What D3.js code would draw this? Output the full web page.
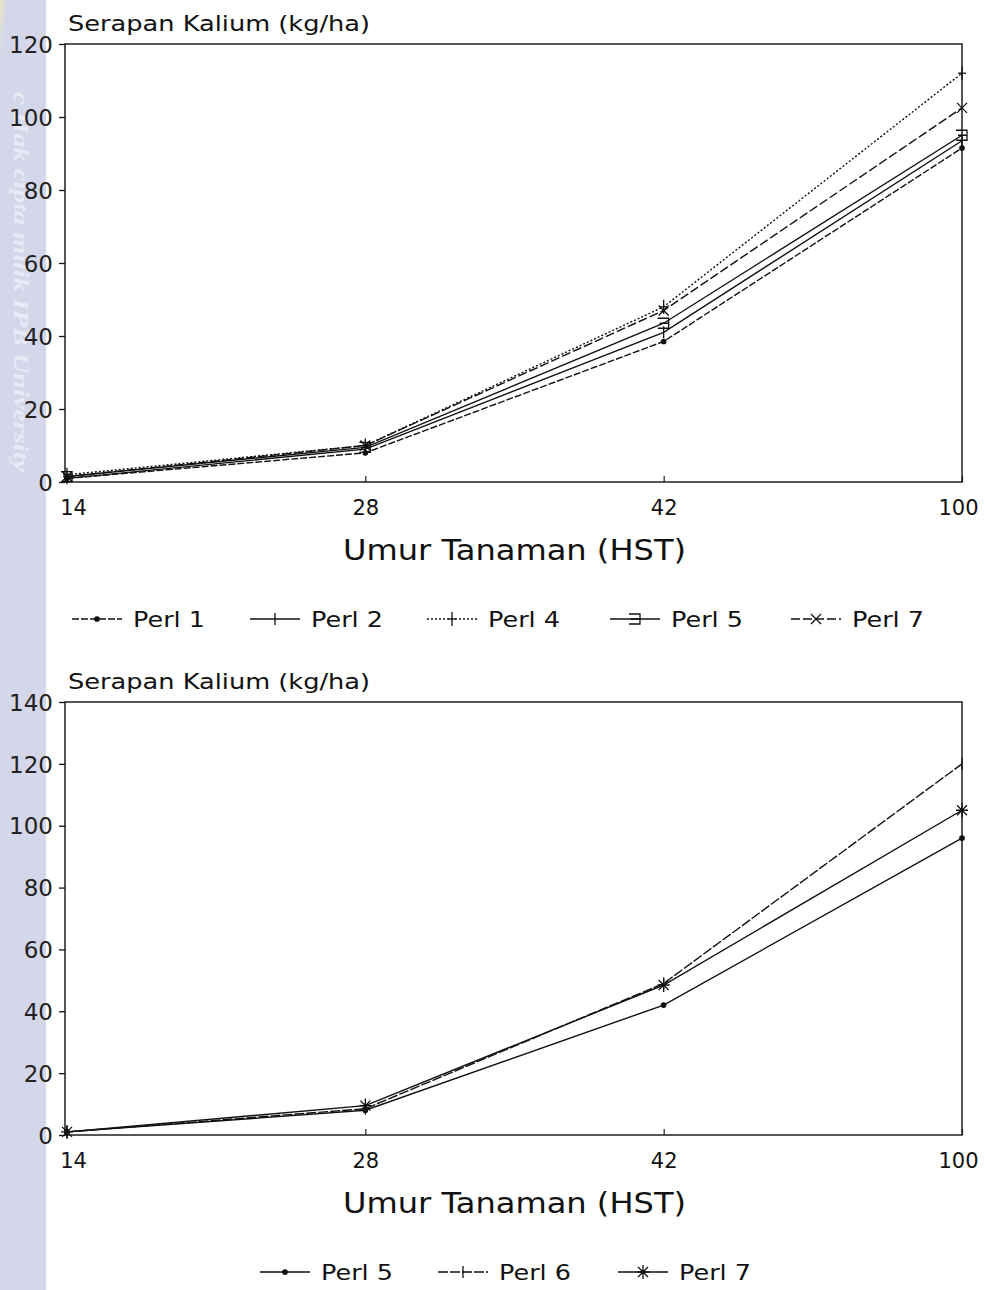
<!DOCTYPE html>
<html>
<head>
<meta charset="utf-8">
<script src="https://cdn.jsdelivr.net/npm/d3@7"></script>
<style>
  body { margin: 0; background: #fff; }
  text { font-family: "DejaVu Sans", sans-serif; fill: #111; }
</style>
</head>
<body>
<div id="chart"></div>
<script>
var width = 985, height = 1290;

// data
var days = ["14", "28", "42", "100"];
var perl1Top = [1, 8, 38.5, 91.5];
var perl2Top = [1, 9, 41, 93.5];
var perl4Top = [2, 10, 48, 112];
var perl5Top = [1.5, 9.5, 43.5, 95];
var perl7Top = [1.5, 10, 47, 102.5];
var ticksTop = [0, 20, 40, 60, 80, 100, 120];

var perl5Bot = [1, 8, 42, 96];
var perl6Bot = [1, 8.5, 49, 120];
var perl7Bot = [1, 9.5, 48.5, 105];
var ticksBot = [0, 20, 40, 60, 80, 100, 120, 140];

var yTitle = "Serapan Kalium (kg/ha)";
var xTitle = "Umur Tanaman (HST)";

var svg = d3.select("#chart").append("svg")
  .attr("width", width)
  .attr("height", height);

// lavender strip with watermark on the left
var grad = svg.append("defs").append("linearGradient")
  .attr("id", "strip").attr("x1", 0).attr("y1", 0).attr("x2", 0.3).attr("y2", 1);
grad.append("stop").attr("offset", "0").attr("stop-color", "#e8e8c4");
grad.append("stop").attr("offset", "0.05").attr("stop-color", "#d4d6ea");
grad.append("stop").attr("offset", "1").attr("stop-color", "#d4d6ea");
svg.append("rect").attr("x", 0).attr("y", 0).attr("width", 46).attr("height", height)
  .style("fill", "url(#strip)");
svg.append("text")
  .attr("transform", "translate(14,92) rotate(90)")
  .attr("textLength", 380).attr("lengthAdjust", "spacingAndGlyphs")
  .style("font-family", "'Liberation Serif', serif")
  .style("font-style", "italic")
  .style("font-weight", "bold")
  .style("font-size", "22px")
  .style("fill", "#e9eaf6")
  .text("c Hak cipta milik IPB University");

var styles = {
  "p1": { dash: "7,2", mark: "dot" },
  "p2": { dash: null, mark: "vbar" },
  "p4": { dash: "2,2", mark: "plus" },
  "p5": { dash: null, mark: "bracket" },
  "p5b": { dash: null, mark: "dot" },
  "p6": { dash: "10,2", mark: "vbar" },
  "p7": { dash: "9,3", mark: "cross" },
  "p7b": { dash: null, mark: "star" }
};

function marker(g, kind, x, y) {
  var m = g.append("g").attr("transform", "translate(" + x + "," + y + ")")
    .style("stroke", "#111").style("stroke-width", 1.3).style("fill", "none");
  if (kind == "dot") {
    m.append("circle").attr("r", 2.2).style("fill", "#111");
  } else if (kind == "vbar") {
    m.append("line").attr("x1", 0).attr("x2", 0).attr("y1", -6).attr("y2", 6);
  } else if (kind == "plus") {
    m.append("line").attr("x1", 0).attr("x2", 0).attr("y1", -7).attr("y2", 7);
    m.append("line").attr("x1", -4).attr("x2", 4).attr("y1", 0).attr("y2", 0);
  } else if (kind == "bracket") {
    m.append("path").attr("d", "M-6,-5H5V5H-6M-4,0H5");
  } else if (kind == "cross") {
    m.append("path").attr("d", "M-5,-5L5,5M-5,5L5,-5");
  } else if (kind == "star") {
    m.append("path").attr("d", "M-5,-5L5,5M-5,5L5,-5M0,-7V7M-6,0H6");
  }
}

function drawChart(top, bottom, maxY, ticks, series, legendX, legendY) {
  var x = d3.scalePoint().domain(days).range([67, 962]);
  var y = d3.scaleLinear().domain([0, maxY]).range([bottom, top]);
  var g = svg.append("g");

  // frame
  g.append("rect").attr("x", 65).attr("y", top).attr("width", 962 - 65).attr("height", bottom - top)
    .style("fill", "none").style("stroke", "#111").style("stroke-width", 1.4);

  // y axis
  var yAxis = d3.axisLeft(y).tickValues(ticks).tickSize(6).tickPadding(6);
  var ya = g.append("g").attr("transform", "translate(65,0)").call(yAxis);
  ya.select(".domain").remove();
  ya.selectAll("line").style("stroke", "#111").style("stroke-width", 1.3);
  ya.selectAll("text").style("font-size", "23px").style("font-family", "'DejaVu Sans', sans-serif")
    .style("fill", "#222").attr("dy", "0.36em");

  // x axis
  var xAxis = d3.axisBottom(x).tickSize(-6).tickPadding(18);
  var xa = g.append("g").attr("transform", "translate(0," + bottom + ")").call(xAxis);
  xa.select(".domain").remove();
  xa.selectAll("line").style("stroke", "#111").style("stroke-width", 1.1);
  xa.selectAll("text").style("font-size", "21px").style("font-family", "'DejaVu Sans', sans-serif");
  xa.selectAll(".tick").filter(function(d) { return d == "14"; }).select("text").attr("dx", 6);
  xa.selectAll(".tick").filter(function(d) { return d == "100"; }).select("text").attr("dx", -4);

  g.append("text").attr("x", 68).attr("y", top - 13)
    .attr("textLength", 302).attr("lengthAdjust", "spacingAndGlyphs")
    .style("font-size", "21px").text(yTitle);
  g.append("text").attr("x", 343).attr("y", bottom + 78)
    .attr("textLength", 343).attr("lengthAdjust", "spacingAndGlyphs")
    .style("font-size", "29px").text(xTitle);

  var line = d3.line()
    .x(function(d, i) { return x(days[i]); })
    .y(function(d) { return y(d); });

  series.forEach(function(s) {
    var st = styles[s.style];
    g.append("path").datum(s.values)
      .attr("d", line)
      .style("fill", "none")
      .style("stroke", "#111")
      .style("stroke-width", 1.4)
      .style("stroke-dasharray", st.dash);
    s.values.forEach(function(v, i) { marker(g, st.mark, x(days[i]), y(v)); });
  });

  // legend
  series.forEach(function(s, i) {
    var st = styles[s.style];
    var lx = legendX[i];
    g.append("line").attr("x1", lx).attr("x2", lx + 50).attr("y1", legendY).attr("y2", legendY)
      .style("stroke", "#111").style("stroke-width", 1.3).style("stroke-dasharray", st.dash);
    marker(g, st.mark, lx + 25, legendY);
    g.append("text").attr("x", lx + 61).attr("y", legendY + 8)
      .attr("textLength", 72).attr("lengthAdjust", "spacingAndGlyphs")
      .style("font-size", "22px").text(s.name);
  });
}

drawChart(44, 482, 120, ticksTop, [
  { name: "Perl 1", style: "p1", values: perl1Top },
  { name: "Perl 2", style: "p2", values: perl2Top },
  { name: "Perl 4", style: "p4", values: perl4Top },
  { name: "Perl 5", style: "p5", values: perl5Top },
  { name: "Perl 7", style: "p7", values: perl7Top }
], [72, 250, 427, 610, 791], 619);

drawChart(702, 1135, 140, ticksBot, [
  { name: "Perl 5", style: "p5b", values: perl5Bot },
  { name: "Perl 6", style: "p6", values: perl6Bot },
  { name: "Perl 7", style: "p7b", values: perl7Bot }
], [260, 438, 618], 1272);
</script>
</body>
</html>
